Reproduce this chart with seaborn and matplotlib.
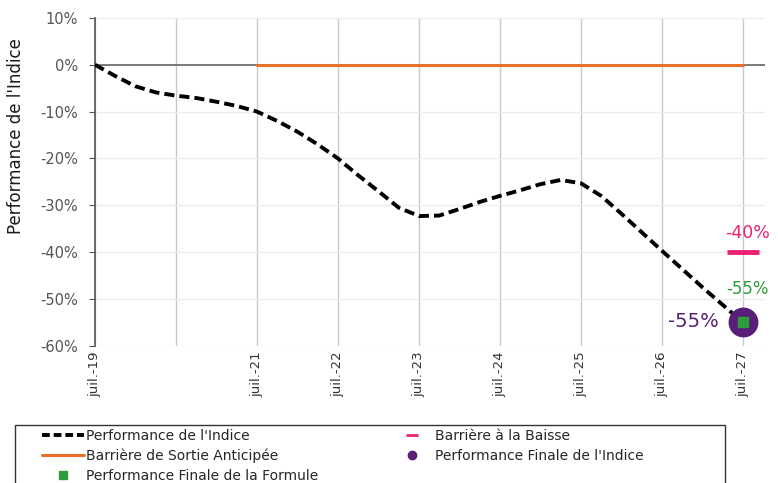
import matplotlib
matplotlib.use("Agg")
import matplotlib.pyplot as plt
import seaborn as sns
import pandas as pd
import numpy as np
from matplotlib.lines import Line2D
from matplotlib.patches import Rectangle

# ---- data ----
tick_labels = ["juil.-19", "", "juil.-21", "juil.-22", "juil.-23",
               "juil.-24", "juil.-25", "juil.-26", "juil.-27"]
perf_x = [0, 0.25, 0.5, 0.75, 1, 1.25, 1.5, 1.75, 2, 2.25, 2.5, 2.75, 3, 3.25, 3.5,
          3.75, 4, 4.25, 4.5, 4.75, 5, 5.25, 5.5, 5.75, 6, 6.25, 6.5, 7, 7.5, 8]
perf_y = [0, -2.4, -4.6, -5.9, -6.6, -7.1, -7.9, -8.8, -10.0, -12.0, -14.3, -17.0,
          -20.0, -23.6, -27.0, -30.5, -32.3, -32.2, -30.8, -29.3, -28.0, -26.8,
          -25.5, -24.6, -25.3, -28.0, -31.8, -39.7, -47.5, -55.0]
barrier_exit_x = [2, 8]
barrier_exit_y = [0, 0]
barrier_low_x = [8]
barrier_low_y = [-40]
final_index_y = [-55]
final_formula_y = [-55]

sns.set_style("white")
plt.rcParams['font.family'] = ['DejaVu Sans']

W, H = 778, 483
fig = plt.figure(figsize=(W / 100, H / 100), dpi=100)
ax = fig.add_axes([0.122, 0.284, 0.861, 0.679])

df = pd.DataFrame({"x": perf_x, "y": perf_y})
sns.lineplot(data=df, x="x", y="y", ax=ax, color="black", lw=2.8, zorder=4)
ax.lines[-1].set_dashes((2.6, 1.3))
ax.lines[-1].set_dash_joinstyle("round")

sns.lineplot(x=barrier_exit_x, y=barrier_exit_y, ax=ax, color="#E8702A", lw=2.2, zorder=3)

ax.scatter(barrier_low_x, barrier_low_y, marker="_", s=500, color="#EE2172", lw=3.5, zorder=5)
ax.scatter([8], final_index_y, marker="o", s=420, color="#5A1E78", zorder=5)
ax.scatter([8], final_formula_y, marker="s", s=60, color="#2E9B3C", zorder=6)

ax.text(8.06, -35.9, "-40%", color="#EE2172", fontsize=12.5, ha="center", va="center")
ax.text(7.8, -47.8, "-55%", color="#2E9B3C", fontsize=12, ha="left", va="center")
ax.text(7.7, -54.8, "-55%", color="#5A1E78", fontsize=14, ha="right", va="center")

ax.set_xlim(0, 8.27)
ax.set_ylim(-60, 10)
ax.set_xticks(range(9))
ax.set_xticklabels(tick_labels, rotation=90, fontsize=9.5, color="#333333")
ax.set_yticks(range(-60, 11, 10))
ax.set_yticklabels([f"{v}%" for v in range(-60, 11, 10)], fontsize=10.5, color="#555555")
ax.set_ylabel("Performance de l'Indice", fontsize=12, color="#1a1a1a")
ax.yaxis.set_label_coords(-0.105, 0.64)
ax.set_xlabel("")

ax.grid(axis="x", color="#c8c8c8", lw=1)
ax.grid(axis="y", color="#ececec", lw=1)
ax.axhline(0, color="#666666", lw=1.2, zorder=2)
for s in ["top", "right", "bottom"]:
    ax.spines[s].set_visible(False)
ax.spines["left"].set_color("#555555")
ax.spines["left"].set_linewidth(1.2)
ax.tick_params(axis="y", length=4, color="#555555", direction="out", left=True, pad=8)
ax.tick_params(axis="x", length=0, pad=4)

# legend
h_perf = Line2D([], [], color="black", lw=2.8, dashes=(2.0, 1.0))
h_exit = Line2D([], [], color="#E8702A", lw=2.2)
h_form = Line2D([], [], color="#2E9B3C", marker="s", ls="none", markersize=6)
h_low = Line2D([], [], color="#EE2172", marker="_", ls="none", markersize=8, mew=2)
h_idx = Line2D([], [], color="#5A1E78", marker="o", ls="none", markersize=6)

common = dict(loc="upper left", fontsize=10, frameon=False, handlelength=3.0,
              handletextpad=0.2, labelspacing=0.4, borderpad=0, borderaxespad=0)
top = 1 - 429 / H
fig.legend([h_perf, h_exit, h_form],
           ["Performance de l'Indice", "Barrière de Sortie Anticipée",
            "Performance Finale de la Formule"],
           bbox_to_anchor=(42 / W, top), **common)
fig.legend([h_low, h_idx],
           ["Barrière à la Baisse", "Performance Finale de l'Indice"],
           bbox_to_anchor=(391 / W, top), **common)
fig.patches.append(Rectangle((15 / W, -0.05), 710 / W, (H - 425) / H + 0.05,
                             transform=fig.transFigure, fill=False,
                             edgecolor="#333333", lw=1.0, clip_on=False))

fig.savefig("out.png", dpi=100)
